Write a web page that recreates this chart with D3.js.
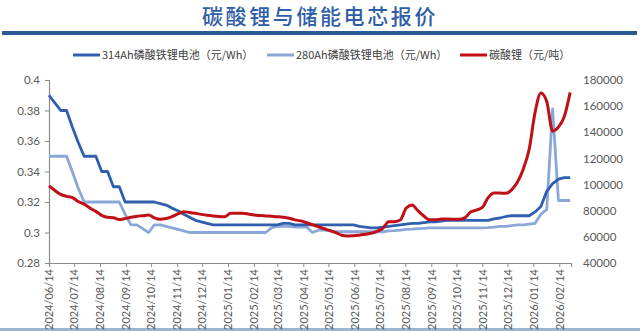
<!DOCTYPE html>
<html>
<head>
<meta charset="utf-8">
<script src="https://cdn.jsdelivr.net/npm/d3@7"></script>
<style>
  html, body { margin: 0; padding: 0; background: #fff; }
  svg { display: block; }
</style>
</head>
<body>
<svg id="chart" width="640" height="331"></svg>
<script>
// Weekly quote dates (Fridays)
const weeks = [
  "2024-06-14","2024-06-21","2024-06-28",
  "2024-07-05","2024-07-12","2024-07-19","2024-07-26",
  "2024-08-02","2024-08-09","2024-08-16","2024-08-23","2024-08-30",
  "2024-09-06","2024-09-13","2024-09-20","2024-09-27",
  "2024-10-04","2024-10-11","2024-10-18","2024-10-25",
  "2024-11-01","2024-11-08","2024-11-15","2024-11-22","2024-11-29",
  "2024-12-06","2024-12-13","2024-12-20","2024-12-27",
  "2025-01-03","2025-01-10","2025-01-17","2025-01-24","2025-01-31",
  "2025-02-07","2025-02-14","2025-02-21","2025-02-28",
  "2025-03-07","2025-03-14","2025-03-21","2025-03-28",
  "2025-04-04","2025-04-11","2025-04-18","2025-04-25",
  "2025-05-02","2025-05-09","2025-05-16","2025-05-23","2025-05-30",
  "2025-06-06","2025-06-13","2025-06-20","2025-06-27",
  "2025-07-04","2025-07-11","2025-07-18","2025-07-25",
  "2025-08-01","2025-08-08","2025-08-15","2025-08-22","2025-08-29",
  "2025-09-05","2025-09-12","2025-09-19","2025-09-26",
  "2025-10-03","2025-10-10","2025-10-17","2025-10-24","2025-10-31",
  "2025-11-07","2025-11-14","2025-11-21","2025-11-28",
  "2025-12-05","2025-12-12","2025-12-19","2025-12-26",
  "2026-01-02","2026-01-09","2026-01-16","2026-01-23","2026-01-30",
  "2026-02-06","2026-02-13","2026-02-20","2026-02-27"
];

// 314Ah LFP cell price (yuan/Wh)
const cell314 = [
  0.390,0.385,0.380,0.380,0.369,0.359,0.350,0.350,0.350,0.340,
  0.340,0.330,0.330,0.320,0.320,0.320,0.320,0.320,0.320,0.319,
  0.318,0.316,0.3143,0.312,0.310,0.308,0.307,0.306,0.305,0.305,
  0.305,0.305,0.305,0.305,0.305,0.305,0.305,0.305,0.305,0.305,
  0.306,0.306,0.305,0.305,0.305,0.305,0.305,0.305,0.305,0.305,
  0.305,0.305,0.305,0.304,0.3035,0.303,0.303,0.3035,0.304,0.3045,
  0.305,0.3055,0.306,0.306,0.3065,0.307,0.307,0.3075,0.308,0.308,
  0.308,0.308,0.308,0.308,0.308,0.308,0.309,0.3095,0.3105,0.311,
  0.311,0.311,0.311,0.3135,0.317,0.327,0.332,0.335,0.336,0.336
];

// 280Ah LFP cell price (yuan/Wh)
const cell280 = [
  0.350,0.350,0.350,0.350,0.3397,0.329,0.320,0.320,0.320,0.320,
  0.320,0.320,0.320,0.312,0.305,0.305,0.3025,0.300,0.305,0.305,
  0.304,0.303,0.302,0.301,0.300,0.300,0.300,0.300,0.300,0.300,
  0.300,0.300,0.300,0.300,0.300,0.300,0.300,0.300,0.303,0.304,
  0.304,0.304,0.3035,0.3035,0.3035,0.300,0.3015,0.3015,0.301,0.3005,
  0.3005,0.3005,0.3005,0.3005,0.3005,0.3005,0.3005,0.3005,0.301,0.3012,
  0.3015,0.302,0.3022,0.3025,0.3027,0.303,0.303,0.303,0.303,0.303,
  0.303,0.303,0.303,0.303,0.303,0.3032,0.3035,0.304,0.304,0.3045,
  0.305,0.305,0.3055,0.306,0.312,0.315,0.381,0.321,0.321,0.321
];

// Lithium carbonate price (yuan/tonne)
const li2co3 = [
  99000,95500,92500,91000,90000,87000,85000,82000,79500,76500,
  75000,74700,73200,74000,75000,75800,76200,76700,74500,73400,
  74000,75500,77500,79300,78700,78000,77200,76500,76000,75600,
  75400,78000,78000,78000,77500,76700,76300,76000,75700,75400,
  75000,74300,73000,72200,70800,69300,67700,66200,64800,63200,
  61200,60700,60800,61300,62000,62700,64200,66500,71500,71600,
  72900,82000,84400,80000,76000,73000,73000,73700,73600,73500,
  73400,74500,79000,80500,82500,90000,93500,93500,93300,96000,
  102000,112000,127000,155000,170000,163500,141000,144000,152000,170500
];

const tickDates = [
  "2024/06/14","2024/07/14","2024/08/14","2024/09/14","2024/10/14",
  "2024/11/14","2024/12/14","2025/01/14","2025/02/14","2025/03/14",
  "2025/04/14","2025/05/14","2025/06/14","2025/07/14","2025/08/14",
  "2025/09/14","2025/10/14","2025/11/14","2025/12/14","2026/01/14",
  "2026/02/14"
];
const leftTicks = [0.28, 0.30, 0.32, 0.34, 0.36, 0.38, 0.40];
const rightTicks = [40000, 60000, 80000, 100000, 120000, 140000, 160000, 180000];

const titleText = "碳酸锂与储能电芯报价";
const seriesNames = ["314Ah磷酸铁锂电池（元/Wh）", "280Ah磷酸铁锂电池（元/Wh）", "碳酸锂（元/吨）"];
const seriesColors = ["#2f5fae", "#8ba7d8", "#c00f16"];

const parseIso = d3.timeParse("%Y-%m-%d");
const parseTick = d3.timeParse("%Y/%m/%d");
const dates = weeks.map(parseIso);

const svg = d3.select("#chart");
const tickFont = "Lato, 'Open Sans', sans-serif";
const cjkFont = "'Noto Sans CJK SC', sans-serif";

// Header
svg.append("text")
  .attr("x", 320).attr("y", 24)
  .attr("text-anchor", "middle")
  .attr("font-family", cjkFont)
  .attr("font-size", 21)
  .attr("font-weight", 500)
  .attr("letter-spacing", 2.6)
  .attr("fill", "#2f5ea8")
  .text(titleText);

svg.append("rect")
  .attr("x", 2).attr("y", 31).attr("width", 635).attr("height", 4)
  .attr("fill", "#2b5b94");

svg.append("rect")
  .attr("x", 0).attr("y", 328).attr("width", 640).attr("height", 3)
  .attr("fill", "#9db5cf");

// Scales
const x = d3.scaleTime()
  .domain([parseIso("2024-06-14"), parseIso("2026-02-28")])
  .range([49, 571]);
const yL = d3.scaleLinear().domain([0.28, 0.40]).range([263, 80]);
const yR = d3.scaleLinear().domain([40000, 180000]).range([263, 80]);

// Axes
const axisColor = "#8c8c8c";
const labelColor = "#595959";

const leftAxis = svg.append("g")
  .attr("transform", "translate(49,0)")
  .call(d3.axisLeft(yL).tickValues(leftTicks).tickSize(4).tickPadding(5)
    .tickFormat(d => d3.format("~g")(+d.toFixed(2))));
leftAxis.select(".domain").attr("stroke", axisColor).attr("stroke-width", 1.2);
leftAxis.selectAll(".tick line").attr("stroke", axisColor);
leftAxis.selectAll("text").attr("font-family", tickFont).attr("font-size", 11.5).attr("fill", labelColor);

const rightAxis = svg.append("g")
  .attr("transform", "translate(571,0)")
  .call(d3.axisRight(yR).tickValues(rightTicks).tickSize(0).tickPadding(12)
    .tickFormat(d3.format("d")));
rightAxis.select(".domain").remove();
rightAxis.selectAll("text").attr("font-family", tickFont).attr("font-size", 11.5).attr("fill", labelColor);

const bottomAxis = svg.append("g")
  .attr("transform", "translate(0,263)")
  .call(d3.axisBottom(x).tickValues(tickDates.map(parseTick)).tickSize(4)
    .tickFormat(d3.timeFormat("%Y/%m/%d")));
bottomAxis.select(".domain").attr("stroke", axisColor).attr("stroke-width", 1.2);
bottomAxis.selectAll(".tick line").attr("stroke", axisColor);
bottomAxis.selectAll("text")
  .attr("font-family", tickFont).attr("font-size", 11).attr("fill", labelColor)
  .attr("text-anchor", "end")
  .attr("transform", "rotate(-90)")
  .attr("x", -6).attr("y", 0).attr("dy", "0.35em");

// Lines
const lineL = d3.line().x((d, i) => x(dates[i])).y(d => yL(d));
const lineR = d3.line().x((d, i) => x(dates[i])).y(d => yR(d)).curve(d3.curveMonotoneX);

svg.append("path").datum(cell280)
  .attr("d", lineL).attr("fill", "none")
  .attr("stroke", seriesColors[1]).attr("stroke-width", 2.8).attr("stroke-linejoin", "round");
svg.append("path").datum(cell314)
  .attr("d", lineL).attr("fill", "none")
  .attr("stroke", seriesColors[0]).attr("stroke-width", 2.8).attr("stroke-linejoin", "round");
svg.append("path").datum(li2co3)
  .attr("d", lineR).attr("fill", "none")
  .attr("stroke", seriesColors[2]).attr("stroke-width", 3).attr("stroke-linejoin", "round");

// Legend
const legendX = [73, 267, 460];
const legend = svg.append("g");
seriesNames.forEach((name, i) => {
  legend.append("line")
    .attr("x1", legendX[i]).attr("x2", legendX[i] + 27)
    .attr("y1", 55).attr("y2", 55)
    .attr("stroke", seriesColors[i]).attr("stroke-width", 3);
  legend.append("text")
    .attr("x", legendX[i] + 29).attr("y", 55).attr("dy", "0.35em")
    .attr("font-family", cjkFont).attr("font-size", 11)
    .attr("fill", "#404040")
    .text(name);
});
</script>
</body>
</html>
